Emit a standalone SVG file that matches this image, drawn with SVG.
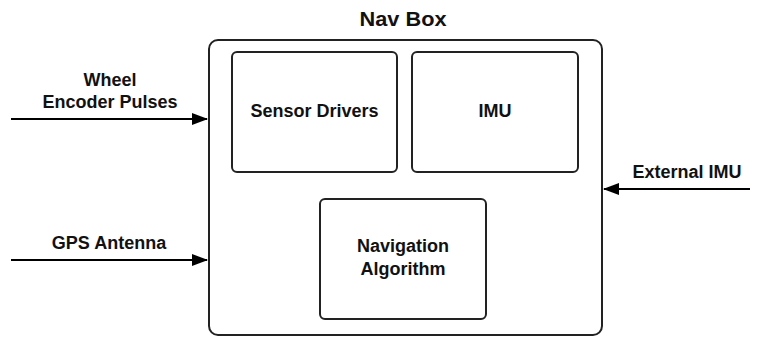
<svg xmlns="http://www.w3.org/2000/svg" width="761" height="338" viewBox="0 0 761 338">
  <style>
    .box { fill: #ffffff; stroke: #222222; stroke-width: 2; }
    .lbl { font-family: "Liberation Sans", Arial, sans-serif; font-weight: bold; font-size: 18px; fill: #111111; text-anchor: middle; }
    .title { font-size: 20px; }
    .wire { stroke: #000000; stroke-width: 2; fill: none; marker-end: url(#arrow); }
  </style>
  <defs>
    <marker id="arrow" markerWidth="16" markerHeight="12" refX="15" refY="6" orient="auto" markerUnits="userSpaceOnUse">
      <path d="M0,0 L16,6 L0,12 Z" fill="#000000"/>
    </marker>
  </defs>
  <rect width="761" height="338" fill="#ffffff"/>

  <g id="nav-box">
    <rect class="box" x="209" y="40" width="393" height="295" rx="9"/>
    <text class="lbl title" x="403" y="26" textLength="87" lengthAdjust="spacingAndGlyphs">Nav Box</text>
  </g>

  <g id="sensor-drivers">
    <rect class="box" x="232" y="52" width="165" height="120" rx="5"/>
    <text class="lbl" x="314.5" y="117">Sensor Drivers</text>
  </g>

  <g id="imu">
    <rect class="box" x="412" y="52" width="166" height="120" rx="5"/>
    <text class="lbl" x="495" y="117">IMU</text>
  </g>

  <g id="navigation-algorithm">
    <rect class="box" x="320" y="199" width="166" height="120" rx="5"/>
    <text class="lbl" x="403" y="252">Navigation</text>
    <text class="lbl" x="403" y="275">Algorithm</text>
  </g>

  <g id="wheel-encoder-label">
    <text class="lbl" x="110" y="86">Wheel</text>
    <text class="lbl" x="110" y="108">Encoder Pulses</text>
  </g>
  <g id="gps-label">
    <text class="lbl" x="109" y="249">GPS Antenna</text>
  </g>
  <g id="external-imu-label">
    <text class="lbl" x="687" y="178">External IMU</text>
  </g>

  <g id="connectors">
    <line class="wire" x1="11" y1="119" x2="207" y2="119"/>
    <line class="wire" x1="11" y1="260" x2="207" y2="260"/>
    <line class="wire" x1="750" y1="189" x2="604" y2="189"/>
  </g>
</svg>
